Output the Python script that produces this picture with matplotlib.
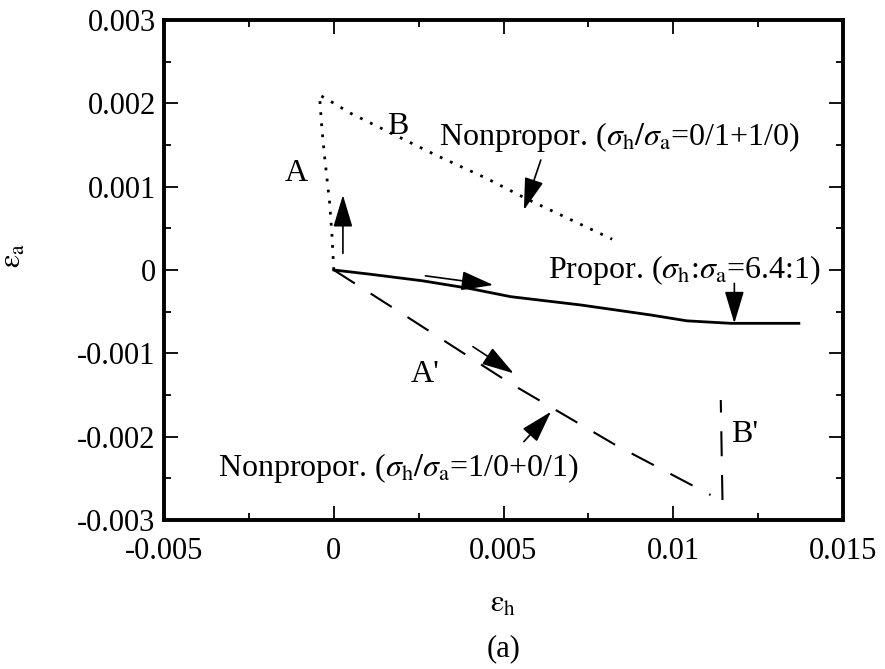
import matplotlib
matplotlib.use('Agg')
import matplotlib.pyplot as plt
from matplotlib.ticker import MultipleLocator, FuncFormatter

plt.rcParams['font.family'] = ['Liberation Serif', 'DejaVu Serif']
plt.rcParams['mathtext.fontset'] = 'stix'
plt.rc('font', size=22)

# path A-B, nonproportional sigma_h/sigma_a = 0/1 + 1/0 (dotted)
nonprop1_h = [0.0, -0.00005, -0.00012, -0.0002, -0.00028, -0.00035, -0.00042,
              -0.0002, 0.0005, 0.0015, 0.0030, 0.0045, 0.0057, 0.0070, 0.0082]
nonprop1_a = [0.0, 0.0004, 0.0008, 0.0011, 0.0014, 0.0017, 0.0021,
              0.00205, 0.00188, 0.00168, 0.00138, 0.00110, 0.00085, 0.00060, 0.00037]

# proportional sigma_h:sigma_a = 6.4:1 (solid)
prop_h = [0.0, 0.00106, 0.00262, 0.00398, 0.00521, 0.00728, 0.00934, 0.0104, 0.0117, 0.0137]
prop_a = [0.0, -0.00005, -0.00013, -0.00022, -0.00032, -0.00042, -0.00054, -0.00061, -0.00064, -0.00064]

# path A'-B', nonproportional sigma_h/sigma_a = 1/0 + 0/1 (dashed)
nonprop2_h = [0.0, 0.002, 0.0052, 0.0083, 0.0111]
nonprop2_a = [0.0, -0.00052, -0.00136, -0.0021, -0.0027]
bprime_h = [0.01145, 0.0114]
bprime_a = [-0.00276, -0.00156]

fig = plt.figure(figsize=(8.85, 6.69), dpi=100)
ax = fig.add_axes([164 / 885, 1 - 520 / 669, 679 / 885, 500 / 669])

ax.plot(nonprop1_h, nonprop1_a, color='k', lw=2, linestyle=(0, (1, 3)))
ax.plot(prop_h, prop_a, color='k', lw=2)
ax.plot(nonprop2_h, nonprop2_a, color='k', lw=1.5, dashes=(12, 9))
ax.plot(bprime_h, bprime_a, color='k', lw=1.5, dashes=(12, 9))

arw = dict(arrowstyle='-|>,head_length=1.0,head_width=0.3', mutation_scale=20,
           color='k', lw=1.2, shrinkA=0, shrinkB=0)
# (tail, head)
arrows = [((0.00027, 0.0002), (0.00027, 0.0009)),
          ((0.0027, -0.00007), (0.0047, -0.00018)),
          ((0.0118, -0.00016), (0.0118, -0.00064)),
          ((0.0061, 0.00132), (0.0056, 0.00072)),
          ((0.0041, -0.00092), (0.0053, -0.00124)),
          ((0.0056, -0.00206), (0.0064, -0.0017))]
for tail, head in arrows:
    ax.annotate('', xy=head, xytext=tail, arrowprops=arw)

lbl = 23
ax.text(-0.00109, 0.00116, 'A', ha='center', va='center', fontsize=lbl)
ax.text(0.00189, 0.00172, 'B', ha='center', va='center', fontsize=lbl)
ax.text(0.0031, 0.0016, r'Nonpropor. ($\sigma_{\mathrm{h}}/\sigma_{\mathrm{a}}$=0/1+1/0)',
        ha='left', va='center', fontsize=lbl)
ax.text(0.0063, 0.0, r'Propor. ($\sigma_{\mathrm{h}}$:$\sigma_{\mathrm{a}}$=6.4:1)',
        ha='left', va='center', fontsize=lbl)
ax.text(0.0027, -0.00125, "A'", ha='center', va='center', fontsize=lbl)
ax.text(0.0117, -0.00198, "B'", ha='left', va='center', fontsize=lbl)
ax.text(-0.0034, -0.00238, r'Nonpropor. ($\sigma_{\mathrm{h}}/\sigma_{\mathrm{a}}$=1/0+0/1)',
        ha='left', va='center', fontsize=lbl)

ax.set_xlim(-0.005, 0.015)
ax.set_ylim(-0.003, 0.003)
ax.xaxis.set_major_locator(MultipleLocator(0.005))
ax.xaxis.set_minor_locator(MultipleLocator(0.0025))
ax.yaxis.set_major_locator(MultipleLocator(0.001))
ax.yaxis.set_minor_locator(MultipleLocator(0.0005))
fmt = FuncFormatter(lambda v, p: '0' if abs(v) < 1e-12 else '%g' % v)
ax.xaxis.set_major_formatter(fmt)
ax.yaxis.set_major_formatter(fmt)
ax.tick_params(which='both', direction='in', top=True, right=True, width=1.3)
ax.tick_params(which='major', length=10)
ax.tick_params(axis='x', which='major', pad=12)
ax.tick_params(axis='y', which='major', pad=6)
ax.tick_params(which='minor', length=5)
for s in ax.spines.values():
    s.set_linewidth(2.8)

ax.set_xlabel(r'$\mathrm{\varepsilon}_{\mathrm{h}}$')
ax.set_ylabel(r'$\mathrm{\varepsilon}_{\mathrm{a}}$')
ax.xaxis.set_label_coords(0.5, -0.14)
ax.yaxis.set_label_coords(-0.2, 0.53)

fig.text(0.5 * (164 + 843) / 885, 0.03, '(a)', ha='center', va='center')

fig.savefig('out.png', dpi=100)
